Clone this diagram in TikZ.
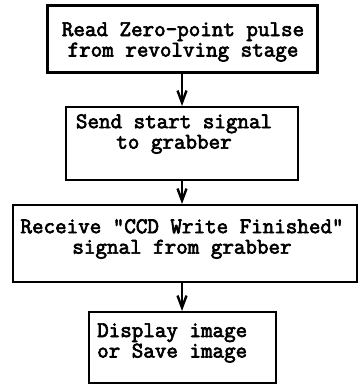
\documentclass[tikz,border=0pt]{standalone}
\usepackage{fontspec}
\newfontfamily\boxfont[FakeBold=3]{Latin Modern Mono}
\usetikzlibrary{arrows.meta}
\begin{document}
\begin{tikzpicture}[x=1pt,y=1pt,
  box/.style={draw=black, line width=2pt, minimum width=#1, inner sep=0pt, fill=white},
  txt/.style={inner sep=0pt, font=\fontsize{22.4}{20.5}\selectfont\boxfont},
  flow/.style={line width=1.6pt, -{Straight Barb[length=12pt,width=9pt,line width=2.4pt]}}]
\useasboundingbox (0,0) rectangle (362,386);
% process boxes (centre, size)
\node[box=270pt, minimum height=67pt, line width=3pt] (b1) at (182,346.5) {};
\node[box=232pt, minimum height=73pt] (b2) at (182,242.5) {};
\node[box=344pt, minimum height=77pt] (b3) at (185,142.5) {};
\node[box=187pt, minimum height=71pt] (b4) at (182.5,38.5) {};
% box texts
\node[txt, align=center] (t1) at (183,344) {Read Zero-point pulse\\from revolving stage};
\node[txt, align=center] (t2) at (174,252) {Send start signal\\to grabber};
\node[txt, align=center] (t3) at (182,147) {Receive "CCD Write Finished"\\signal from grabber};
\node[txt, align=left, anchor=west] (t4) at (97,43) {Display image\\or Save image};
% connectors
\draw[flow] (b1.south) -- (b2.north);
\draw[flow] (b2.south) -- (b2.south |- b3.north);
\draw[flow] (b2.south |- b3.south) -- (b4.north -| b2.south);
\end{tikzpicture}
\end{document}
